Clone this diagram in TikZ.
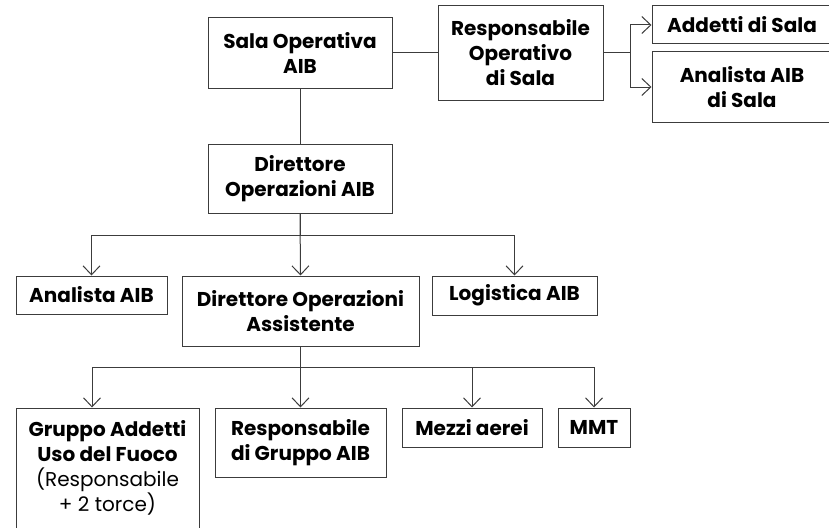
\documentclass[tikz,border=0pt]{standalone}
\usepackage{fontspec}
\setmainfont{Poppins}
\usetikzlibrary{arrows.meta}
\definecolor{orgline}{RGB}{60,60,60}

\begin{document}
\begin{tikzpicture}[x=1pt,y=-1pt,
  box/.style={draw=orgline, line width=1pt, align=center, inner sep=0pt,
    font=\fontsize{20}{25}\selectfont\bfseries},
  link/.style={draw=orgline, line width=1pt},
  arr/.style={link, -{Straight Barb[length=9pt,width=17pt]}}]
\useasboundingbox (0,0) rectangle (829,527);
% Top row
\node[box, minimum width=184pt, minimum height=70pt] (sala) at (300,53) {Sala Operativa\\AIB};
\node[box, minimum width=165pt, minimum height=94pt] (respop) at (520.5,53) {Responsabile\\Operativo\\di Sala};
\node[box, minimum width=180pt, minimum height=38pt] (addetti) at (742,25) {Addetti di Sala};
\node[box, minimum width=180pt, minimum height=70pt] (analsala) at (742,87) {Analista AIB\\di Sala};
% Director
\node[box, minimum width=184pt, minimum height=69pt] (diret) at (300,178.5) {Direttore\\Operazioni AIB};
% Staff row
\node[box, minimum width=151pt, minimum height=38pt] (analista) at (91.5,295) {Analista AIB};
\node[box, minimum width=237pt, minimum height=70pt] (doa) at (300.5,311) {Direttore Operazioni\\Assistente};
\node[box, minimum width=165pt, minimum height=39pt] (logistica) at (514.5,295.5) {Logistica AIB};
% Field row
\node[box, minimum width=183pt, minimum height=120pt] (gruppo) at (107.5,468)
  {Gruppo Addetti\\Uso del Fuoco\\{\mdseries(Responsabile}\\{\mdseries+ 2 torce)}};
\node[box, minimum width=171pt, minimum height=69pt] (resgruppo) at (300.5,442.5) {Responsabile\\di Gruppo AIB};
\node[box, minimum width=140pt, minimum height=39pt] (mezzi) at (472,427.5) {Mezzi aerei};
\node[box, minimum width=72pt, minimum height=39pt] (mmt) at (594,427.5) {MMT};
% Connectors top
\draw[link] (sala.east) -- (respop.west);
\draw[arr] (respop.east) -- ++(27,0) |- (addetti.west);
\draw[arr] (respop.east) -- ++(27,0) |- (analsala.west);
\draw[link] (sala.south) -- (diret.north);
% Connectors staff
\draw[arr] (diret.south) -- ++(0,22) -| (analista.north);
\draw[arr] (diret.south) -- (doa.north);
\draw[arr] (diret.south) -- ++(0,22) -| (logistica.north);
% Connectors field
\draw[arr] (doa.south) -- ++(0,21) -| ([xshift=-15.5pt]gruppo.north);
\draw[arr] (doa.south) -- (resgruppo.north);
\draw[arr] (doa.south) -- ++(0,21) -| (mezzi.north);
\draw[arr] (doa.south) -- ++(0,21) -| (mmt.north);
\end{tikzpicture}
\end{document}
